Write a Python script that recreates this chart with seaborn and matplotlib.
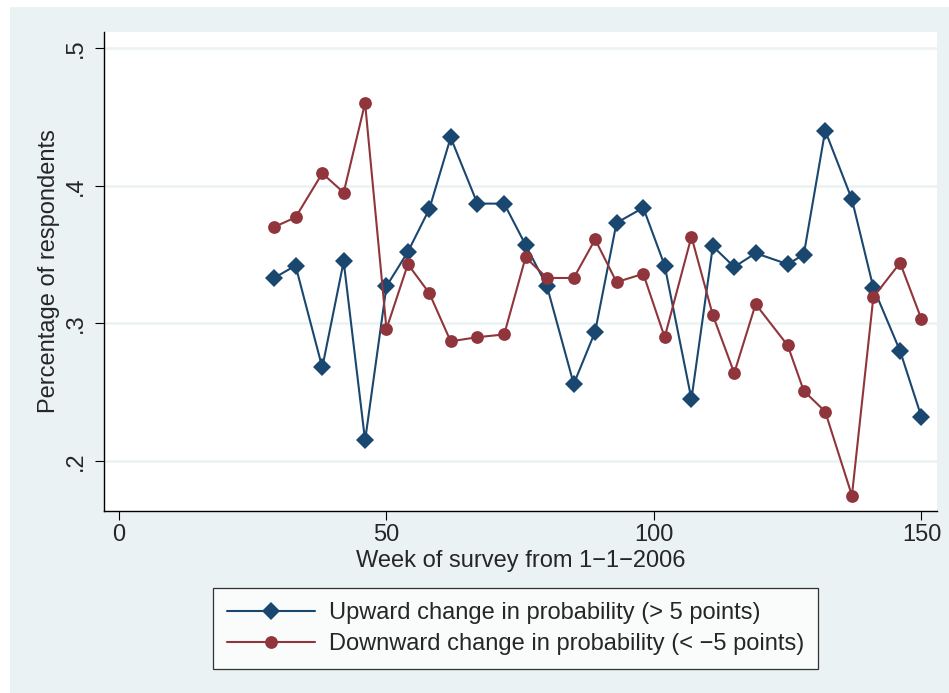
import matplotlib
matplotlib.use("Agg")
import matplotlib.pyplot as plt
from matplotlib.patches import Rectangle
from matplotlib.lines import Line2D
import seaborn as sns
import pandas as pd

weeks = [29, 33, 38, 42, 46, 50, 54, 58, 62, 67, 72, 76, 80, 85, 89, 93, 98,
         102, 107, 111, 115, 119, 125, 128, 132, 137, 141, 146, 150]
upward = [0.333, 0.342, 0.268, 0.345, 0.215, 0.327, 0.352, 0.383, 0.435, 0.387,
          0.387, 0.357, 0.327, 0.256, 0.294, 0.373, 0.384, 0.342, 0.245, 0.356,
          0.341, 0.351, 0.343, 0.350, 0.440, 0.390, 0.326, 0.280, 0.232]
downward = [0.370, 0.377, 0.409, 0.395, 0.460, 0.296, 0.343, 0.322, 0.287, 0.290,
            0.292, 0.348, 0.333, 0.333, 0.361, 0.330, 0.336, 0.290, 0.363, 0.306,
            0.264, 0.314, 0.284, 0.251, 0.236, 0.175, 0.319, 0.344, 0.303]
series_names = ["Upward change in probability (> 5 points)",
                "Downward change in probability (< \u22125 points)"]
xticks = [0, 50, 100, 150]
yticks = [0.2, 0.3, 0.4, 0.5]
ytick_labels = [".2", ".3", ".4", ".5"]

BLUE = "#1A476F"
RED = "#90353B"
BG = "#EAF2F3"
FS = 17

df = pd.DataFrame({
    "week": weeks * 2,
    "value": upward + downward,
    "series": [series_names[0]] * len(weeks) + [series_names[1]] * len(weeks),
})

sns.set_theme(style="white")
plt.rcParams["font.family"] = ["Liberation Sans", "DejaVu Sans"]

W, H = 949, 693
fig = plt.figure(figsize=(W / 100, H / 100), dpi=100)
fig.patch.set_facecolor("white")
fig.add_artist(Rectangle((10 / W, 0), 1 - 10 / W, 1 - 7 / H, transform=fig.transFigure,
                         facecolor=BG, edgecolor="none", zorder=0))

ax = fig.add_axes([104 / W, 1 - 511 / H, (937 - 104) / W, (511 - 32) / H])
ax.set_facecolor("white")

sns.lineplot(data=df, x="week", y="value", hue="series", style="series",
             palette={series_names[0]: BLUE, series_names[1]: RED},
             markers={series_names[0]: "D", series_names[1]: "o"},
             dashes=False, linewidth=1.5, markersize=9, markeredgewidth=0,
             legend=False, ax=ax, zorder=3)
for ln in ax.get_lines():
    if ln.get_marker() == "D":
        ln.set_markersize(9)
    else:
        ln.set_markersize(9.2)

ax.set_xlim(-2.8, 152.9)
ax.set_ylim(0.1638, 0.5116)
ax.set_xticks(xticks)
ax.set_xticklabels([str(t) for t in xticks], fontsize=FS)
ax.set_yticks(yticks)
ax.set_yticklabels(ytick_labels, fontsize=FS, rotation=90, va="center")
for y in yticks:
    ax.axhline(y, color=BG, linewidth=1.8, zorder=1)

for s in ["top", "right"]:
    ax.spines[s].set_visible(False)
for s in ["left", "bottom"]:
    ax.spines[s].set_color("black")
    ax.spines[s].set_linewidth(1.0)
ax.tick_params(axis="both", direction="out", length=6.5, width=0.8, color="black",
               left=True, bottom=True)
ax.tick_params(axis="x", pad=3)
ax.tick_params(axis="y", pad=6)
ax.set_xlabel("Week of survey from 1\u22121\u22122006", fontsize=FS, labelpad=3)
ax.set_ylabel("Percentage of respondents", fontsize=FS, labelpad=3)

handles = [
    Line2D([], [], color=BLUE, marker="D", markersize=9, markeredgewidth=0, linewidth=1.5),
    Line2D([], [], color=RED, marker="o", markersize=9.2, markeredgewidth=0, linewidth=1.5),
]
leg = fig.legend(handles, series_names, loc="upper left",
                 bbox_to_anchor=(213 / W, 1 - 588 / H), fontsize=FS,
                 frameon=True, fancybox=False, handlelength=3.7, handletextpad=0.6,
                 borderpad=0.6, labelspacing=0.38, borderaxespad=0)
leg.get_frame().set_edgecolor("black")
leg.get_frame().set_linewidth(0.9)
leg.get_frame().set_facecolor("white")

fig.savefig("out.png", dpi=100, facecolor=fig.get_facecolor())
